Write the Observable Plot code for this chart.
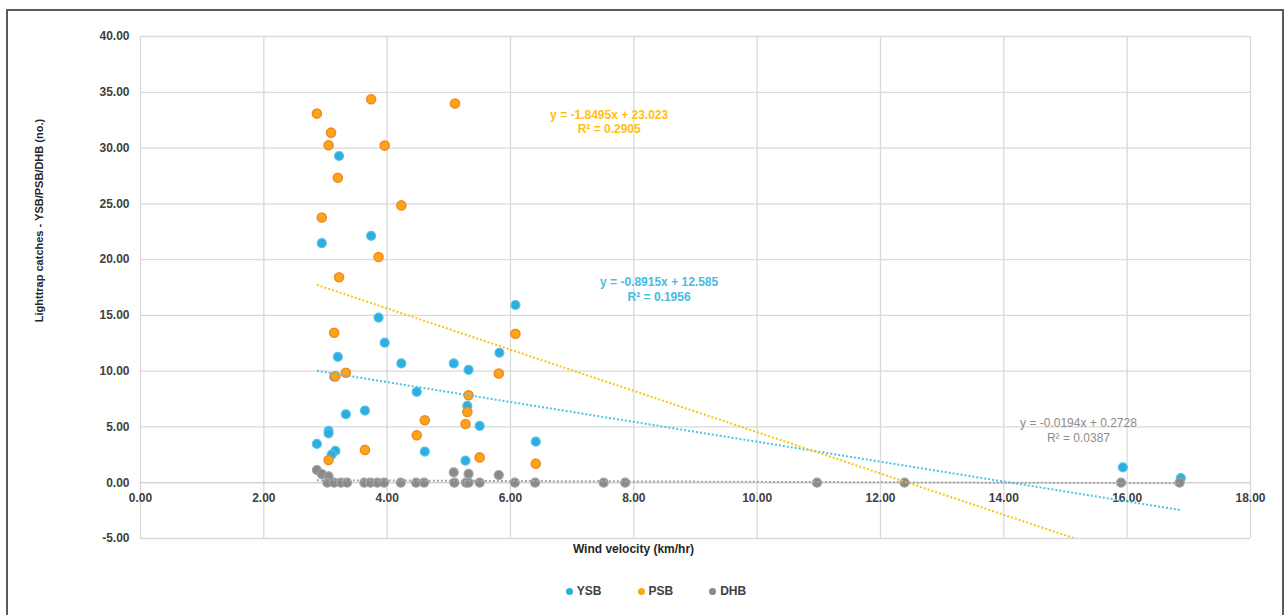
<!DOCTYPE html>
<html>
<head>
<meta charset="utf-8">
<script src="https://cdn.jsdelivr.net/npm/d3@7"></script>
<script src="https://cdn.jsdelivr.net/npm/@observablehq/plot@0.6"></script>
<style>
  html, body { margin: 0; padding: 0; background: #fff; }
  body { width: 1287px; height: 615px; position: relative; overflow: hidden; font-family: "Liberation Sans", Arial, sans-serif; }
  #frame { position: absolute; left: 6px; top: 9px; width: 1278px; height: 640px; border: 2px solid #5a5a5a; box-sizing: border-box; pointer-events: none; }
  #chart { position: absolute; left: 0; top: 0; }
  #legend { position: absolute; left: 556px; top: 584px; width: 200px; display: flex; justify-content: center; gap: 36px; font: bold 12px "Liberation Sans", Arial, sans-serif; color: #404040; }
  #legend span.item { display: flex; align-items: center; gap: 4px; }
  #legend i { display: inline-block; width: 7px; height: 7px; border-radius: 50%; }
</style>
</head>
<body>
<div id="chart"></div>
<div id="legend"></div>
<div id="frame"></div>
<script>
// ---- data ----
const seriesNames = ["YSB", "PSB", "DHB"];
const seriesFill = {YSB: "#2eaee0", PSB: "#fca51a", DHB: "#8a8a8a"};
const seriesStroke = {YSB: "#55c2ea", PSB: "#f58a1f", DHB: "#a3a3a3"};
const trendColor = {YSB: "#4cc3e6", PSB: "#ffc20e", DHB: "#a6a6a6"};
const labelColor = {YSB: "#45bde3", PSB: "#ffbf10", DHB: "#8c8c8c"};
const labelWeight = {YSB: "bold", PSB: "bold", DHB: "normal"};

const ysbX = [3.22, 3.74, 2.94, 6.08, 3.86, 3.96, 5.82, 3.20, 4.23, 5.08, 5.32, 3.14, 4.48, 5.30, 3.33, 3.64, 5.50, 3.05, 3.05, 2.86, 6.41, 3.16, 3.10, 4.61, 5.27, 15.93, 16.87];
const ysbY = [29.29, 22.13, 21.47, 15.93, 14.80, 12.55, 11.65, 11.29, 10.69, 10.69, 10.12, 9.50, 8.15, 6.89, 6.14, 6.47, 5.09, 4.65, 4.43, 3.48, 3.68, 2.85, 2.52, 2.79, 1.98, 1.38, 0.42];

const psbX = [2.86, 3.74, 5.10, 3.09, 3.05, 3.96, 3.20, 4.23, 2.94, 3.86, 3.22, 3.14, 6.08, 5.81, 3.33, 3.16, 5.32, 5.30, 5.27, 4.61, 4.48, 3.64, 3.05, 5.50, 6.41];
const psbY = [33.09, 34.38, 33.99, 31.38, 30.25, 30.22, 27.34, 24.86, 23.78, 20.24, 18.42, 13.45, 13.36, 9.79, 9.86, 9.55, 7.84, 6.35, 5.27, 5.60, 4.25, 2.94, 2.04, 2.27, 1.71];

const dhbX = [2.86, 2.94, 3.05, 3.03, 3.14, 3.25, 3.35, 3.63, 3.73, 3.84, 3.95, 4.22, 4.47, 4.60, 5.08, 5.09, 5.28, 5.32, 5.32, 5.50, 5.81, 6.07, 6.40, 7.51, 7.86, 10.97, 12.39, 15.90, 16.85];
const dhbY = [1.14, 0.78, 0.57, 0, 0, 0, 0, 0, 0, 0, 0, 0, 0, 0, 0.93, 0, 0, 0.80, 0, 0, 0.69, 0, 0, 0, 0, 0, 0, 0, 0];

// linear trendlines (Excel) : slope, intercept, R²
const trendSlope = {YSB: -0.8915, PSB: -1.8495, DHB: -0.0194};
const trendIntercept = {YSB: 12.585, PSB: 23.023, DHB: 0.2728};
const trendR2 = {YSB: "0.1956", PSB: "0.2905", DHB: "0.0387"};
const eqLabel = {
  YSB: "y = -0.8915x + 12.585",
  PSB: "y = -1.8495x + 23.023",
  DHB: "y = -0.0194x + 0.2728"
};
// label anchor (data coordinates)
const eqAtX = {YSB: 8.41, PSB: 7.60, DHB: 15.21};
const eqAtY = {YSB: 17.97, PSB: 32.97, DHB: 5.33};

const xTicks = [0, 2, 4, 6, 8, 10, 12, 14, 16, 18];
const yTicks = [-5, 0, 5, 10, 15, 20, 25, 30, 35, 40];
const xTitle = "Wind velocity (km/hr)";
const yTitle = "Lighttrap catches - YSB/PSB/DHB (no.)";

// ---- build tables ----
const pts = [];
ysbX.forEach((x, i) => pts.push({s: "YSB", x, y: ysbY[i]}));
psbX.forEach((x, i) => pts.push({s: "PSB", x, y: psbY[i]}));
dhbX.forEach((x, i) => pts.push({s: "DHB", x, y: dhbY[i]}));

const allX = [...ysbX, ...psbX, ...dhbX];
const xMin = d3.min(allX), xMax = d3.max(allX);
const trend = [];
seriesNames.forEach(s => {
  [xMin, xMax].forEach(x => trend.push({s, x, y: trendSlope[s] * x + trendIntercept[s]}));
});

const font = '"Liberation Sans", Arial, sans-serif';

const labelMarks = [];
seriesNames.forEach(s => {
  const common = {x: eqAtX[s], y: eqAtY[s], fill: labelColor[s], fontWeight: labelWeight[s], fontSize: 12};
  labelMarks.push(Plot.text([eqLabel[s]], {...common, text: d => d}));
  labelMarks.push(Plot.text(["R² = " + trendR2[s]], {...common, text: d => d, dy: 14.5}));
});

const chart = Plot.plot({
  width: 1287,
  height: 570,
  marginLeft: 140,
  marginRight: 37,
  marginTop: 36,
  marginBottom: 32,
  style: {fontFamily: font, background: "transparent", overflow: "visible"},
  x: {domain: [0, 18], axis: null},
  y: {domain: [-5, 40], axis: null},
  marks: [
    Plot.gridX(xTicks, {stroke: "#d9d9d9", strokeOpacity: 1, strokeWidth: 1.3}),
    Plot.gridY(yTicks, {stroke: "#d9d9d9", strokeOpacity: 1, strokeWidth: 1.3}),
    Plot.ruleY([0], {stroke: "#d0d0d0", strokeWidth: 1.3}),
    Plot.axisY({ticks: yTicks, tickFormat: d => d.toFixed(2), tickSize: 0, tickPadding: 11,
      fontSize: 12, fontWeight: "bold", fill: "#404040", label: null}),
    Plot.text(xTicks, {x: d => d, y: 0, dy: 15, text: d => d.toFixed(2), fontSize: 12, fontWeight: "bold", fill: "#404040"}),
    Plot.text([xTitle], {frameAnchor: "bottom", dx: -62, dy: 14, text: d => d, fontSize: 12, fontWeight: "bold", fill: "#262626"}),
    Plot.text([yTitle], {x: -1.64, y: 23.5, rotate: -90, text: d => d, fontSize: 11, fontWeight: "bold", fill: "#262626"}),
    Plot.dot(pts.filter(d => d.s === "YSB"), {x: "x", y: "y", r: 4.5, fill: seriesFill.YSB, stroke: seriesStroke.YSB, strokeWidth: 1.2}),
    Plot.dot(pts.filter(d => d.s === "PSB"), {x: "x", y: "y", r: 4.5, fill: seriesFill.PSB, stroke: seriesStroke.PSB, strokeWidth: 1.6}),
    Plot.dot(pts.filter(d => d.s === "DHB"), {x: "x", y: "y", r: 4.5, fill: seriesFill.DHB, stroke: seriesStroke.DHB, strokeWidth: 1.2}),
    ...seriesNames.map(s => Plot.line(trend.filter(d => d.s === s), {x: "x", y: "y", stroke: trendColor[s], strokeWidth: 2, strokeDasharray: "2,2", strokeLinecap: "butt", clip: true})),
    ...labelMarks
  ]
});
document.getElementById("chart").appendChild(chart);

const legend = document.getElementById("legend");
seriesNames.forEach(s => {
  const item = document.createElement("span");
  item.className = "item";
  const m = document.createElement("i");
  m.style.background = seriesFill[s];
  item.appendChild(m);
  item.appendChild(document.createTextNode(s));
  legend.appendChild(item);
});
</script>
</body>
</html>
